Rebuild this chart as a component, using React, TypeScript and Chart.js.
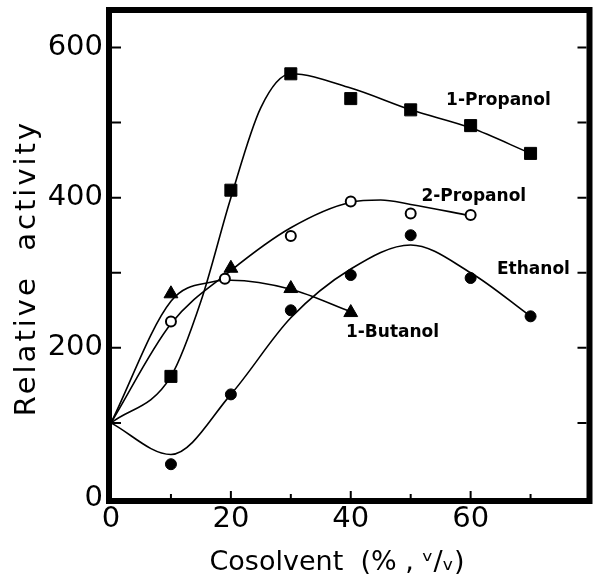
import React, { useEffect, useRef } from 'react';
import { Chart, registerables } from 'chart.js';

Chart.register(...registerables);

// Measured points
const propX = [10, 20, 30, 40, 50, 60, 70];
const propY = [162, 410, 565, 532, 517, 496, 459];
const isoX = [10, 19, 30, 40, 50, 60];
const isoY = [235, 292, 349, 395, 379, 377];
const ethX = [10, 20, 30, 40, 50, 60, 70];
const ethY = [45, 138, 250, 297, 350, 293, 242];
const butX = [10, 20, 30, 40];
const butY = [272, 306, 279, 247];

// Hand-drawn fitted curves (knots)
const propCurveX = [0, 10, 15, 20, 25, 30, 40, 50, 60, 70];
const propCurveY = [100, 162, 262, 400, 520, 565, 546, 517, 493, 459];
const isoCurveX = [0, 10, 20, 30, 40, 45, 50, 60];
const isoCurveY = [100, 232, 303, 360, 394, 397, 391, 376];
const ethCurveX = [0, 10, 20, 30, 40, 50, 60, 70];
const ethCurveY = [100, 58, 138, 240, 305, 337, 300, 242];
const butCurveX = [0, 10, 17, 20, 30, 40];
const butCurveY = [100, 262, 288, 290, 278, 248];

// Axis tick labels
const xTickLabels = [0, 20, 40, 60];
const yTickLabels = [0, 200, 400, 600];

// Series names and their label anchors (data coordinates)
const seriesNames = ['1-Propanol', '2-Propanol', 'Ethanol', '1-Butanol'];
const labelX = [55.9, 51.8, 64.4, 39.2];
const labelY = [530, 401, 304, 221];

const xTitle = 'Cosolvent  (% , ᵛ/ᵥ)';
const yTitle = 'Relative  activity';

const zip = (xs: number[], ys: number[]) => xs.map((x, i) => ({ x, y: ys[i] }));

const framePlugin = {
  id: 'frame',
  afterDatasetsDraw(chart: any) {
    const { ctx, chartArea: a, scales } = chart;
    const xs = scales.x;
    const ys = scales.y;
    ctx.save();
    ctx.strokeStyle = '#000';
    ctx.fillStyle = '#000';
    ctx.lineWidth = 6;
    ctx.strokeRect(a.left - 2, a.top, a.right - a.left + 1, a.bottom - a.top + 3);

    ctx.lineWidth = 2;
    ys.ticks.forEach((t: any) => {
      if (t.value % 100 === 0 && t.value > 0 && t.value < ys.max) {
        const py = ys.getPixelForValue(t.value);
        ctx.beginPath();
        ctx.moveTo(a.left + 1, py);
        ctx.lineTo(a.left + 10, py);
        ctx.moveTo(a.right - 4, py);
        ctx.lineTo(a.right - 13, py);
        ctx.stroke();
      }
    });
    xs.ticks.forEach((t: any) => {
      if (t.value > 0 && t.value < xs.max) {
        const px = xs.getPixelForValue(t.value);
        const len = t.value % 20 === 0 ? 7 : 4;
        ctx.beginPath();
        ctx.moveTo(px, a.bottom);
        ctx.lineTo(px, a.bottom - len);
        ctx.stroke();
      }
    });

    // series labels
    ctx.font = 'bold 17px "DejaVu Sans"';
    ctx.textAlign = 'left';
    ctx.textBaseline = 'middle';
    seriesNames.forEach((n, i) => {
      ctx.fillText(n, xs.getPixelForValue(labelX[i]), ys.getPixelForValue(labelY[i]));
    });

    // axis titles
    ctx.textAlign = 'center';
    ctx.font = '27px "DejaVu Sans"';
    ctx.fillText(xTitle, a.left + 226, a.bottom + 65);
    ctx.save();
    ctx.font = '29px "DejaVu Sans"';
    try { (ctx as any).letterSpacing = '3px'; } catch (e) {}
    ctx.translate(27, a.top + 258);
    ctx.rotate(-Math.PI / 2);
    ctx.fillText(yTitle, 0, 0);
    ctx.restore();
    ctx.restore();
  },
};

export default function App() {
  const ref = useRef<HTMLCanvasElement | null>(null);
  useEffect(() => {
    if (!ref.current) return;
    const curve = (xs: number[], ys: number[]) => ({
      data: zip(xs, ys),
      showLine: true,
      borderColor: '#000',
      borderWidth: 1.6,
      pointRadius: 0,
      cubicInterpolationMode: 'monotone' as const,
      fill: false,
      order: 2,
    });
    const pts = (xs: number[], ys: number[], style: any, radius: number, bg: string) => ({
      data: zip(xs, ys),
      showLine: false,
      pointStyle: style,
      pointRadius: radius,
      backgroundColor: bg,
      borderColor: '#000',
      borderWidth: bg === '#fff' ? 2 : 1,
      order: 1,
    });
    const chart = new Chart(ref.current, {
      type: 'scatter',
      data: {
        datasets: [
          { label: seriesNames[0] + ' fit', ...curve(propCurveX, propCurveY) },
          { label: seriesNames[1] + ' fit', ...curve(isoCurveX, isoCurveY) },
          { label: seriesNames[2] + ' fit', ...curve(ethCurveX, ethCurveY) },
          { label: seriesNames[3] + ' fit', ...curve(butCurveX, butCurveY) },
          { label: seriesNames[0], ...pts(propX, propY, 'rect', 8.5, '#000') },
          { label: seriesNames[1], ...pts(isoX, isoY, 'circle', 5, '#fff') },
          { label: seriesNames[2], ...pts(ethX, ethY, 'circle', 5.5, '#000') },
          { label: seriesNames[3], ...pts(butX, butY, 'triangle', 8, '#000') },
        ] as any,
      },
      options: {
        animation: false,
        responsive: false,
        layout: { padding: { top: 10, right: 7, left: 0, bottom: 0 } },
        plugins: { legend: { display: false }, tooltip: { enabled: false } },
        scales: {
          x: {
            type: 'linear',
            min: 0,
            max: 80,
            grid: { display: false, drawTicks: false },
            border: { display: false },
            afterFit: (s: any) => {
              s.height = 80;
              s.paddingLeft = 0;
              s.paddingRight = 0;
            },
            ticks: {
              stepSize: 10,
              autoSkip: false,
              maxRotation: 0,
              padding: 4,
              color: '#000',
              font: { family: 'DejaVu Sans', size: 29 },
              callback: (v: any) => (xTickLabels.includes(Number(v)) ? String(v) : ''),
            },
          },
          y: {
            type: 'linear',
            min: 0,
            max: 650,
            grid: { display: false, drawTicks: false },
            border: { display: false },
            afterFit: (s: any) => {
              s.width = 111;
              s.paddingTop = 0;
              s.paddingBottom = 0;
            },
            ticks: {
              stepSize: 100,
              autoSkip: false,
              padding: 8,
              color: '#000',
              font: { family: 'DejaVu Sans', size: 29 },
              callback: (v: any) => (yTickLabels.includes(Number(v)) ? String(v) : ''),
            },
          },
        },
      },
      plugins: [framePlugin],
    });
    return () => chart.destroy();
  }, []);
  return (
    <div style={{ position: 'fixed', left: 0, top: 0, width: 600, height: 578, background: '#fff' }}>
      <canvas ref={ref} width={600} height={578} style={{ display: 'block' }} />
    </div>
  );
}
